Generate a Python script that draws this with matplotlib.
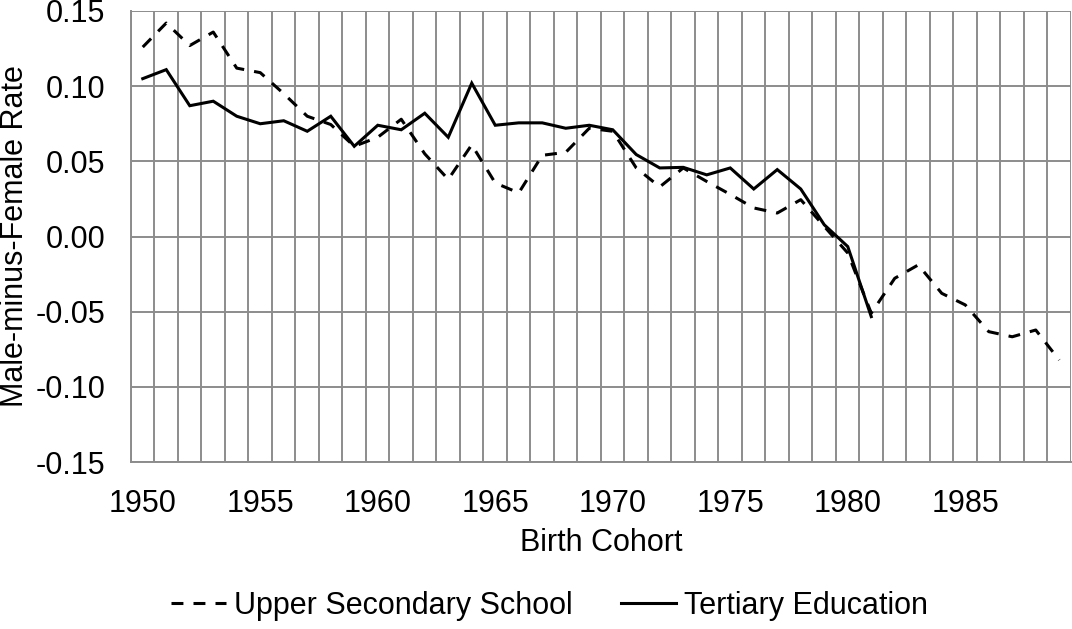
import matplotlib
matplotlib.use("Agg")
import matplotlib.pyplot as plt
from matplotlib.ticker import MultipleLocator, FixedLocator, FormatStrFormatter

years = list(range(1950, 1990))
upper_secondary = [0.126, 0.142, 0.127, 0.136, 0.112, 0.109, 0.095, 0.080, 0.0745, 0.060,
                   0.066, 0.078, 0.055, 0.038, 0.061, 0.0356, 0.029, 0.054, 0.056, 0.072,
                   0.070, 0.0456, 0.033, 0.0456, 0.0366, 0.028, 0.019, 0.0156, 0.0245, 0.0067,
                   -0.011, -0.051, -0.0278, -0.0189, -0.0378, -0.0455, -0.0633, -0.0667, -0.0622, -0.0822]
tertiary_years = list(range(1950, 1982))
tertiary = [0.105, 0.111, 0.087, 0.090, 0.080, 0.075, 0.077, 0.070, 0.080, 0.060,
            0.074, 0.071, 0.082, 0.066, 0.102, 0.074, 0.0756, 0.0756, 0.072, 0.074,
            0.071, 0.0545, 0.0456, 0.046, 0.041, 0.0456, 0.0316, 0.0445, 0.0316, 0.0078,
            -0.0067, -0.0533]
xtick_labels = [1950, 1955, 1960, 1965, 1970, 1975, 1980, 1985]

plt.rcParams['font.family'] = ['Liberation Sans', 'DejaVu Sans']

fig = plt.figure(figsize=(10.72, 6.29), dpi=100)
ax = fig.add_axes([131/1072, 1 - 462/629, (1071 - 131)/1072, (462 - 11)/629])

grid_c = '#8c8c8c'
ax.set_xlim(1949.5, 1989.5)
ax.set_ylim(-0.15, 0.15)
ax.xaxis.set_minor_locator(FixedLocator([y + 0.5 for y in range(1949, 1990)]))
ax.xaxis.set_major_locator(FixedLocator(xtick_labels))
ax.yaxis.set_major_locator(MultipleLocator(0.05))
ax.yaxis.set_major_formatter(FormatStrFormatter('%.2f'))
ax.grid(which='minor', axis='x', color=grid_c, linewidth=1.4)
ax.grid(which='major', axis='y', color=grid_c, linewidth=1.4)
ax.set_axisbelow(True)
for s in ['top', 'right']:
    ax.spines[s].set_visible(False)
for s in ['left', 'bottom']:
    ax.spines[s].set_color(grid_c)
    ax.spines[s].set_linewidth(1.4)
ax.tick_params(axis='x', which='both', length=0, pad=19.5, labelsize=22)
ax.tick_params(axis='y', which='both', length=0, pad=18.5, labelsize=22)

l1, = ax.plot(years, upper_secondary, color='black', linewidth=2.2, dashes=(3.9, 3.3),
              label='Upper Secondary School', solid_joinstyle='miter', clip_on=False)
l2, = ax.plot(tertiary_years, tertiary, color='black', linewidth=2.2,
              label='Tertiary Education', solid_joinstyle='miter', clip_on=False)

ax.set_xlabel('Birth Cohort', fontsize=22, labelpad=6.5)
ax.set_ylabel('Male-minus-Female Rate', fontsize=22, labelpad=4)

fig.legend(handles=[l1, l2], loc='center', bbox_to_anchor=(549.5/1072, 1 - 606/629),
           ncol=2, frameon=False, fontsize=22, handlelength=1.8, handletextpad=0.26,
           columnspacing=1.6, borderpad=0.2)

fig.savefig('out.png', dpi=100)
